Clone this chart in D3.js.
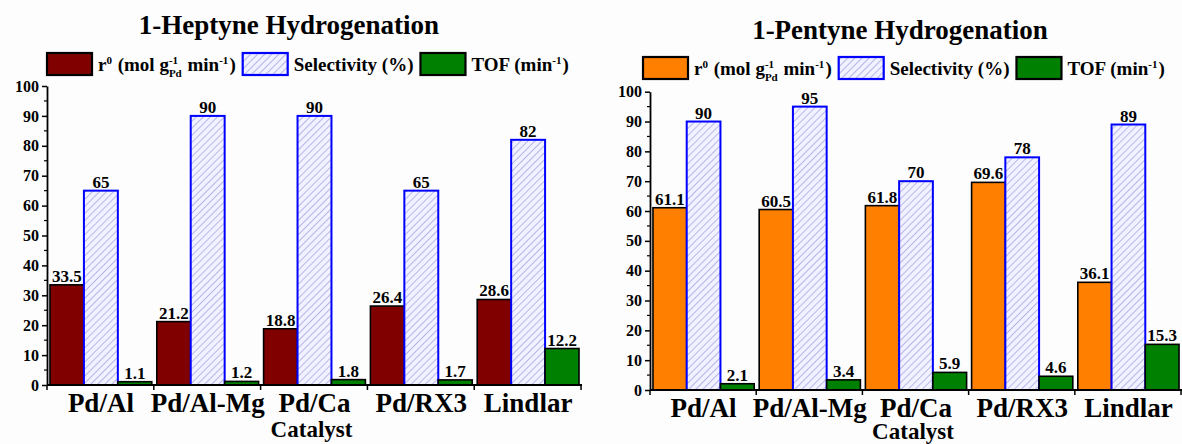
<!DOCTYPE html>
<html>
<head>
<meta charset="utf-8">
<script src="https://cdn.jsdelivr.net/npm/d3@7"></script>
<style>
  html, body { margin: 0; padding: 0; background: #fdfdfd; }
  svg { display: block; font-family: "Liberation Serif", "Times New Roman", serif; }
  text { font-family: "Liberation Serif", "Times New Roman", serif; font-weight: bold; fill: #000; white-space: pre; }
</style>
</head>
<body>
<svg id="chart" width="1182" height="444"></svg>
<script>
// Catalysts compared in both hydrogenation runs
const catalysts = ["Pd/Al", "Pd/Al-Mg", "Pd/Ca", "Pd/RX3", "Lindlar"];

// 1-Heptyne hydrogenation
const heptyneRate = [33.5, 21.2, 18.8, 26.4, 28.6];        // r0 (mol g-1 Pd min-1)
const heptyneSelectivity = [65, 90, 90, 65, 82];           // %
const heptyneTOF = [1.1, 1.2, 1.8, 1.7, 12.2];             // min-1

// 1-Pentyne hydrogenation
const pentyneRate = [61.1, 60.5, 61.8, 69.6, 36.1];
const pentyneSelectivity = [90, 95, 70, 78, 89];
const pentyneTOF = [2.1, 3.4, 5.9, 4.6, 15.3];

// Y axis ticks
const yMajorTicks = [0, 10, 20, 30, 40, 50, 60, 70, 80, 90, 100];
const yMinorTicks = [5, 15, 25, 35, 45, 55, 65, 75, 85, 95];

const seriesKeys = ["rate", "selectivity", "tof"];

const svg = d3.select("#chart");

// Hatched fill used for the selectivity bars
const defs = svg.append("defs");
const pat = defs.append("pattern")
  .attr("id", "hatch")
  .attr("patternUnits", "userSpaceOnUse")
  .attr("width", 5).attr("height", 5)
  .attr("patternTransform", "rotate(45)");
pat.append("rect").attr("width", 5).attr("height", 5).attr("fill", "#f1f1ff");
pat.append("line")
  .attr("x1", 0).attr("y1", 0).attr("x2", 0).attr("y2", 5)
  .attr("stroke", "#a9a9e6").attr("stroke-width", 1.6);

// Writes a run of text pieces (with super/subscripts) starting at x, returns end x
function richText(g, x, y, pieces, size) {
  let cx = x;
  pieces.forEach(p => {
    if (p.sup) {
      const s = size * 0.58;
      const t = g.append("text").attr("x", cx).attr("y", y - size * 0.38)
        .style("font-size", s + "px").text(p.t);
      let w = t.node().getComputedTextLength();
      if (p.sub) {
        const u = g.append("text").attr("x", cx).attr("y", y + size * 0.3)
          .style("font-size", s + "px").text(p.sub);
        w = Math.max(w, u.node().getComputedTextLength());
      }
      cx += w + 1;
    } else {
      const t = g.append("text").attr("x", cx).attr("y", y)
        .style("font-size", size + "px").text(p.t);
      cx += t.node().getComputedTextLength();
    }
  });
  return cx;
}

function drawPanel(cfg) {
  const g = svg.append("g");

  const x = d3.scaleBand()
    .domain(catalysts)
    .range([cfg.left, cfg.right])
    .paddingInner(0.047)
    .paddingOuter(0.028);

  const xi = d3.scaleBand()
    .domain(seriesKeys)
    .range([0, x.bandwidth()]);

  const y = d3.scaleLinear().domain([0, 100]).range([cfg.bottom, cfg.top]);

  const rows = catalysts.map((c, i) => ({
    cat: c,
    values: [
      { key: "rate", v: cfg.rate[i] },
      { key: "selectivity", v: cfg.selectivity[i] },
      { key: "tof", v: cfg.tof[i] }
    ]
  }));

  const style = {
    rate: { fill: cfg.rateColor, stroke: "#000", sw: 1.6 },
    selectivity: { fill: "url(#hatch)", stroke: "#0000ff", sw: 2 },
    tof: { fill: "#008000", stroke: "#000", sw: 1.6 }
  };

  // Bars
  const grp = g.selectAll("g.grp").data(rows).join("g")
    .attr("class", "grp")
    .attr("transform", d => `translate(${x(d.cat)},0)`);

  grp.selectAll("rect").data(d => d.values).join("rect")
    .attr("x", d => xi(d.key))
    .attr("y", d => y(d.v))
    .attr("width", xi.bandwidth())
    .attr("height", d => y(0) - y(d.v))
    .attr("fill", d => style[d.key].fill)
    .attr("stroke", d => style[d.key].stroke)
    .attr("stroke-width", d => style[d.key].sw);

  // Value labels
  grp.selectAll("text.val").data(d => d.values).join("text")
    .attr("class", "val")
    .attr("x", d => xi(d.key) + xi.bandwidth() / 2)
    .attr("y", d => y(d.v) - 3)
    .attr("text-anchor", "middle")
    .style("font-size", "17px")
    .text(d => d.key === "selectivity" ? d3.format("d")(d.v) : d3.format(".1f")(d.v));

  // Y axis
  const yAxis = g.append("g")
    .attr("transform", `translate(${cfg.left},0)`)
    .call(d3.axisLeft(y).tickValues(yMajorTicks).tickSize(5).tickSizeOuter(0).tickPadding(3).tickFormat(d3.format("d")));
  yAxis.select(".domain").attr("stroke", "#000").attr("stroke-width", 1.8);
  yAxis.selectAll(".tick line").attr("stroke", "#000").attr("stroke-width", 1.5);
  yAxis.selectAll(".tick text")
    .style("font-family", "'Liberation Serif', serif")
    .style("font-weight", "bold")
    .style("font-size", "16px");

  g.append("g").selectAll("line").data(yMinorTicks).join("line")
    .attr("x1", cfg.left - 3).attr("x2", cfg.left)
    .attr("y1", d => y(d)).attr("y2", d => y(d))
    .attr("stroke", "#000").attr("stroke-width", 1.2);

  // X axis with ticks on the group boundaries
  g.append("line")
    .attr("x1", cfg.left).attr("x2", cfg.right)
    .attr("y1", y(0)).attr("y2", y(0))
    .attr("stroke", "#000").attr("stroke-width", 1.8);

  const bounds = d3.range(catalysts.length + 1).map(i => cfg.left + i * x.step());
  g.append("g").selectAll("line").data(bounds).join("line")
    .attr("x1", d => d).attr("x2", d => d)
    .attr("y1", y(0)).attr("y2", y(0) + 5)
    .attr("stroke", "#000").attr("stroke-width", 1.5);

  g.append("g").selectAll("text").data(catalysts).join("text")
    .attr("x", d => x(d) + x.bandwidth() / 2)
    .attr("y", y(0) + 27)
    .attr("text-anchor", "middle")
    .style("font-size", "27px")
    .text(d => d);

  g.append("text")
    .attr("x", (cfg.left + cfg.right) / 2 - 3)
    .attr("y", cfg.catalystY)
    .attr("text-anchor", "middle")
    .style("font-size", "23px")
    .text("Catalyst");

  // Title
  g.append("text")
    .attr("x", cfg.titleX)
    .attr("y", cfg.titleY)
    .attr("text-anchor", "middle")
    .style("font-size", "27px")
    .text(cfg.title);

  // Legend
  const lg = g.append("g");
  const legendItems = [
    { key: "rate", pieces: [{ t: "r" }, { t: "0", sup: true }, { t: "\u00A0(mol g" }, { t: "-1", sup: true, sub: "Pd" }, { t: "\u00A0min" }, { t: "-1", sup: true }, { t: ")" }] },
    { key: "selectivity", pieces: [{ t: "Selectivity (%)" }] },
    { key: "tof", pieces: [{ t: "TOF (min" }, { t: "-1", sup: true }, { t: ")" }] }
  ];
  let lx = cfg.legendX;
  legendItems.forEach(item => {
    lg.append("rect")
      .attr("x", lx).attr("y", cfg.legendY)
      .attr("width", 45).attr("height", 22)
      .attr("fill", style[item.key].fill)
      .attr("stroke", style[item.key].stroke)
      .attr("stroke-width", 2.2);
    lx = richText(lg, lx + 51, cfg.legendY + 18, item.pieces, 19) + 7;
  });
}

drawPanel({
  title: "1-Heptyne Hydrogenation",
  rate: heptyneRate, selectivity: heptyneSelectivity, tof: heptyneTOF,
  rateColor: "#800000",
  left: 47, right: 582, bottom: 385, top: 86,
  titleX: 289, titleY: 34,
  legendX: 47, legendY: 53,
  catalystY: 437
});

drawPanel({
  title: "1-Pentyne Hydrogenation",
  rate: pentyneRate, selectivity: pentyneSelectivity, tof: pentyneTOF,
  rateColor: "#ff8000",
  left: 650, right: 1182, bottom: 390, top: 91.7,
  titleX: 900, titleY: 39,
  legendX: 643, legendY: 57,
  catalystY: 439
});
</script>
</body>
</html>
